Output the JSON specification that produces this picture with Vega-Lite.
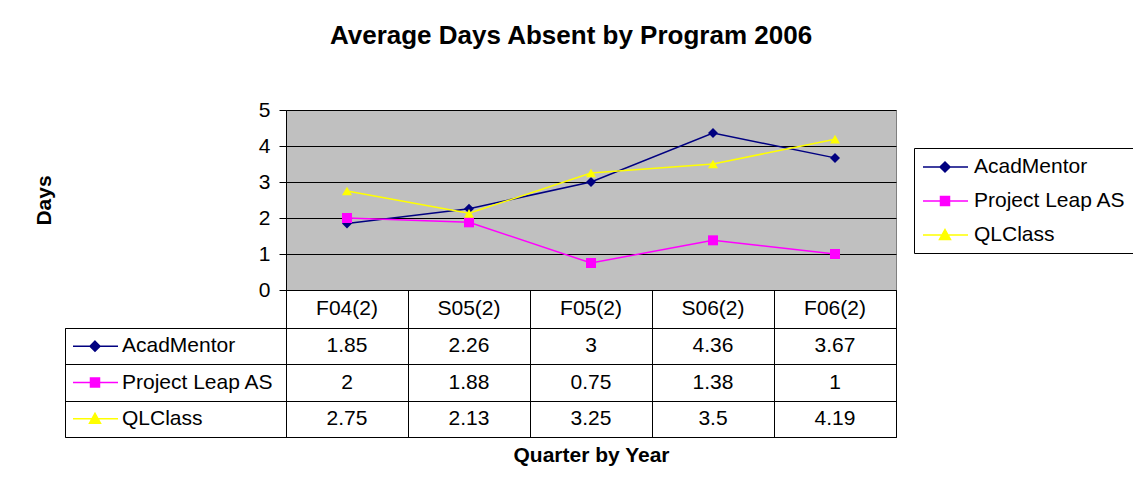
{
  "$schema": "https://vega.github.io/schema/vega-lite/v6.json",
  "background": "white",
  "padding": {"left": 32, "top": 22, "right": 0, "bottom": 0},
  "config": {"view": {"stroke": null}, "font": "Liberation Sans", "concat": {"spacing": 0}},
  "datasets": {
    "d": [
      {"series": "AcadMentor", "quarter": "F04(2)", "value": 1.85},
      {"series": "AcadMentor", "quarter": "S05(2)", "value": 2.26},
      {"series": "AcadMentor", "quarter": "F05(2)", "value": 3},
      {"series": "AcadMentor", "quarter": "S06(2)", "value": 4.36},
      {"series": "AcadMentor", "quarter": "F06(2)", "value": 3.67},
      {"series": "Project Leap AS", "quarter": "F04(2)", "value": 2},
      {"series": "Project Leap AS", "quarter": "S05(2)", "value": 1.88},
      {"series": "Project Leap AS", "quarter": "F05(2)", "value": 0.75},
      {"series": "Project Leap AS", "quarter": "S06(2)", "value": 1.38},
      {"series": "Project Leap AS", "quarter": "F06(2)", "value": 1},
      {"series": "QLClass", "quarter": "F04(2)", "value": 2.75},
      {"series": "QLClass", "quarter": "S05(2)", "value": 2.13},
      {"series": "QLClass", "quarter": "F05(2)", "value": 3.25},
      {"series": "QLClass", "quarter": "S06(2)", "value": 3.5},
      {"series": "QLClass", "quarter": "F06(2)", "value": 4.19}
    ]
  },
  "columns": 2,
  "spacing": 0,
  "bounds": "flush",
  "align": "each",
  "resolve": {"scale": {"color": "independent", "shape": "independent", "fill": "independent", "stroke": "independent", "size": "independent"}},
  "concat": [
    {"width": 221, "height": 180, "data": {"values": []}, "mark": "point", "encoding": {}},
    {
      "width": 610,
      "height": 180,
      "view": {"fill": "#C0C0C0", "stroke": "#808080"},
      "title": {"text": "Average Days Absent by Program 2006", "font": "Liberation Sans", "fontSize": 26, "fontWeight": "bold", "color": "black", "anchor": "middle", "frame": "group", "dx": -20, "offset": 29, "baseline": "alphabetic"},
      "data": {"name": "d"},
      "encoding": {
        "x": {"field": "quarter", "type": "nominal",
          "scale": {"type": "point", "domain": ["F04(2)", "S05(2)", "F05(2)", "S06(2)", "F06(2)"], "padding": 0.5},
          "axis": null},
        "y": {"field": "value", "type": "quantitative",
          "scale": {"domain": [0, 5], "nice": false},
          "axis": {"values": [0, 1, 2, 3, 4, 5], "grid": true, "gridColor": "black", "gridOpacity": 1, "tickColor": "black", "tickSize": 7, "domainColor": "black", "labelFontSize": 21, "labelColor": "black", "labelPadding": 9, "labelFont": "Liberation Sans",
            "title": "Days", "titleFont": "Liberation Sans", "titleFontSize": 21, "titleFontWeight": "bold", "titleColor": "black", "titleX": -242, "titleY": 90, "titleBaseline": "middle", "titleAngle": -90, "titleAlign": "center"}},
        "color": {"field": "series", "type": "nominal",
          "scale": {"domain": ["AcadMentor", "Project Leap AS", "QLClass"], "range": ["#000080", "#FF00FF", "#FFFF00"]},
          "legend": null}
      },
      "layer": [
        {"mark": {"type": "line", "strokeWidth": 1.5}},
        {"mark": {"type": "point", "filled": true, "opacity": 1, "size": 100},
          "encoding": {"shape": {"field": "series", "type": "nominal",
            "scale": {"domain": ["AcadMentor", "Project Leap AS", "QLClass"], "range": ["diamond", "square", "triangle-up"]},
            "legend": null}}}
      ]
    },
    {"width": 221, "height": 38, "data": {"values": []}, "mark": "point", "encoding": {}},
    {
      "width": 610,
      "height": 38,
      "view": {"stroke": "black"},
      "data": {"name": "d"},
      "transform": [{"filter": "datum.series === 'AcadMentor'"}],
      "mark": {"type": "text", "fontSize": 21, "baseline": "middle", "color": "black"},
      "encoding": {
        "x": {"field": "quarter", "type": "nominal",
          "scale": {"domain": ["F04(2)", "S05(2)", "F05(2)", "S06(2)", "F06(2)"], "paddingInner": 0, "paddingOuter": 0},
          "axis": {"grid": true, "gridColor": "black", "gridOpacity": 1, "tickBand": "extent", "labels": false, "ticks": false, "domain": false, "title": null}},
        "text": {"field": "quarter", "type": "nominal"}
      }
    },
    {
      "width": 221,
      "height": 109,
      "view": {"stroke": "black"},
      "data": {"name": "d"},
      "transform": [{"filter": "datum.quarter === 'F04(2)'"}],
      "encoding": {
        "y": {"field": "series", "type": "nominal",
          "scale": {"domain": ["AcadMentor", "Project Leap AS", "QLClass"], "paddingInner": 0, "paddingOuter": 0},
          "axis": {"grid": true, "gridColor": "black", "gridOpacity": 1, "tickBand": "extent", "labels": false, "ticks": false, "domain": false, "title": null}}
      },
      "layer": [
        {
          "mark": {"type": "point", "opacity": 1, "size": 400, "strokeWidth": 1.5, "xOffset": -92.5},
          "encoding": {
            "fill": {"field": "series", "type": "nominal",
              "scale": {"domain": ["AcadMentor", "Project Leap AS", "QLClass"], "range": ["#000080", "#FF00FF", "#FFFF00"]},
              "legend": {"orient": "none", "legendX": 849, "legendY": -180, "title": null, "strokeColor": "black", "fillColor": "white", "padding": 8, "symbolSize": 400, "symbolStrokeWidth": 1.5, "labelFont": "Liberation Sans", "labelFontSize": 21, "labelColor": "black", "labelOffset": 30, "rowPadding": 13, "labelLimit": 400}},
            "stroke": {"field": "series", "type": "nominal",
              "scale": {"domain": ["AcadMentor", "Project Leap AS", "QLClass"], "range": ["#000080", "#FF00FF", "#FFFF00"]},
              "legend": {"orient": "none", "legendX": 849, "legendY": -180, "title": null, "strokeColor": "black", "fillColor": "white", "padding": 8, "symbolSize": 400, "symbolStrokeWidth": 1.5, "labelFont": "Liberation Sans", "labelFontSize": 21, "labelColor": "black", "labelOffset": 30, "rowPadding": 13, "labelLimit": 400}},
            "shape": {"field": "series", "type": "nominal",
              "scale": {"domain": ["AcadMentor", "Project Leap AS", "QLClass"], "range": [
                "M-1,0H3.5M1.2,-0.5L1.7,0L1.2,0.5L0.7,0Z",
                "M-1,0H3.5M0.75,-0.45H1.65V0.45H0.75Z",
                "M-1,0H3.5M1.2,-0.55L1.75,0.45H0.65Z"
              ]},
              "legend": {"orient": "none", "legendX": 849, "legendY": -180, "title": null, "strokeColor": "black", "fillColor": "white", "padding": 8, "symbolSize": 400, "symbolStrokeWidth": 1.5, "labelFont": "Liberation Sans", "labelFontSize": 21, "labelColor": "black", "labelOffset": 30, "rowPadding": 13, "labelLimit": 400}}
          }
        },
        {
          "mark": {"type": "text", "align": "left", "baseline": "middle", "dx": -53.5, "fontSize": 21, "color": "black"},
          "encoding": {"text": {"field": "series", "type": "nominal"}}
        }
      ]
    },
    {
      "width": 610,
      "height": 109,
      "view": {"stroke": "black"},
      "data": {"name": "d"},
      "mark": {"type": "text", "fontSize": 21, "baseline": "middle", "color": "black"},
      "encoding": {
        "x": {"field": "quarter", "type": "nominal",
          "scale": {"domain": ["F04(2)", "S05(2)", "F05(2)", "S06(2)", "F06(2)"], "paddingInner": 0, "paddingOuter": 0},
          "axis": {"grid": true, "gridColor": "black", "gridOpacity": 1, "tickBand": "extent", "labels": false, "ticks": false, "domain": false,
            "title": "Quarter by Year", "titleFont": "Liberation Sans", "titleFontSize": 21, "titleFontWeight": "bold", "titleColor": "black", "titlePadding": 7}},
        "y": {"field": "series", "type": "nominal",
          "scale": {"domain": ["AcadMentor", "Project Leap AS", "QLClass"], "paddingInner": 0, "paddingOuter": 0},
          "axis": {"grid": true, "gridColor": "black", "gridOpacity": 1, "tickBand": "extent", "labels": false, "ticks": false, "domain": false, "title": null}},
        "text": {"field": "value", "type": "quantitative"}
      }
    }
  ]
}
